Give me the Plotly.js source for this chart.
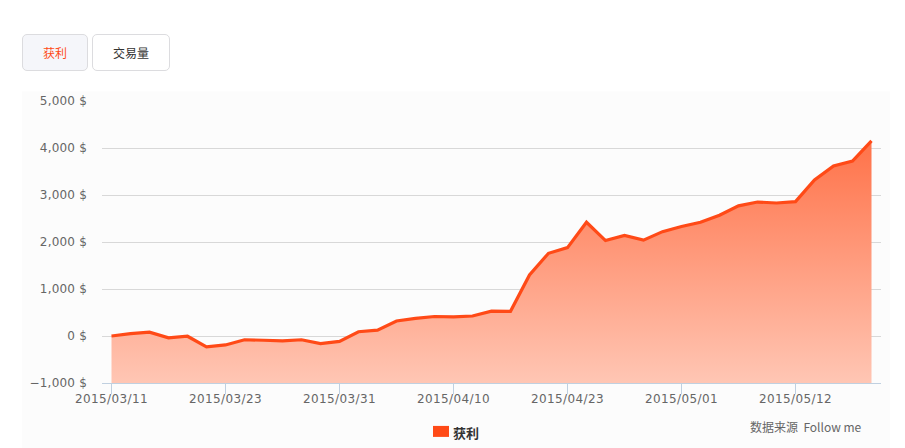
<!DOCTYPE html>
<html>
<head>
<meta charset="utf-8">
<script src="https://cdn.plot.ly/plotly-3.0.1.min.js"></script>
<style>
html,body{margin:0;padding:0;background:#fff;width:905px;height:448px;overflow:hidden}
#chart{position:absolute;left:0;top:0;width:905px;height:448px}
.tab{position:absolute;top:34px;height:35px;text-align:center;border:1px solid #dcdcdf;border-radius:5px;box-sizing:content-box;font:12px/35px "Noto Sans CJK SC",sans-serif;z-index:5}
#t1{left:22px;width:64px;background:#f5f6fa;color:#ff4a17}
#t2{left:92px;width:76px;background:#fff;color:#333}
#chart .xtick text{letter-spacing:.4px}
#chart .ytick text{letter-spacing:.2px}
</style>
</head>
<body>
<div id="chart"></div>
<div class="tab" id="t1">获利</div>
<div class="tab" id="t2">交易量</div>
<script>
var profit = [0,50,80,-40,-5,-230,-190,-80,-90,-105,-80,-160,-115,90,125,320,375,415,405,425,530,525,1300,1760,1880,2420,2030,2140,2040,2220,2330,2420,2570,2770,2850,2830,2860,3320,3620,3720,4150];
var floorValue = -1000;
var tickIndex = [0,6,12,18,24,30,36];
var tickDates = ['2015/03/11','2015/03/23','2015/03/31','2015/04/10','2015/04/23','2015/05/01','2015/05/12'];
var yTicks = [-1000,0,1000,2000,3000,4000,5000];
var yLabels = ['−1,000 $','0 $','1,000 $','2,000 $','3,000 $','4,000 $','5,000 $'];
var seriesName = '获利';
var sourceLabel = '数据来源';
var sourceLink = 'Follow me';

var idx = profit.map(function(_, i){return i;});
var W = 905, H = 448;
var FONT = '"DejaVu Sans","Noto Sans CJK SC",sans-serif';
var L = 102, R = 881, T = 100.5, B = 383;

var traces = [
  {x: idx, y: idx.map(function(){return floorValue;}), mode:'lines', line:{width:0}, showlegend:false, hoverinfo:'skip'},
  {x: idx, y: profit, name: seriesName, mode:'lines', fill:'tonexty',
   line:{color:'#ff4a17', width:3.2, shape:'linear'},
   fillgradient:{type:'vertical', start:floorValue, stop:3900,
     colorscale:[[0,'rgb(255,198,180)'],[1,'rgb(255,118,78)']]},
   showlegend:false, cliponaxis:false}
];

var layout = {
  width: W, height: H, showlegend:false,
  paper_bgcolor:'#ffffff', plot_bgcolor:'rgba(0,0,0,0)',
  margin:{l:L, r:W-R, t:T, b:H-B, pad:0},
  font:{family:FONT, size:12, color:'#666'},
  xaxis:{range:[-0.5,40.5], tickmode:'array', tickvals:tickIndex, ticktext:tickDates,
    ticks:'outside', ticklen:10, tickcolor:'#c0d0e0', tickwidth:1,
    showline:true, linecolor:'#c0d0e0', linewidth:1, showgrid:false, zeroline:false,
    ticklabelstandoff:-5, tickfont:{family:FONT, size:12, color:'#666'}, fixedrange:true},
  yaxis:{range:[-1000,5000], tickmode:'array', tickvals:yTicks, ticktext:yLabels,
    ticks:'', showline:false, showgrid:true, gridcolor:'#d8d8d8', gridwidth:1,
    zeroline:true, zerolinecolor:'#d8d8d8', zerolinewidth:1,
    ticklabelstandoff:14, tickfont:{family:FONT, size:12, color:'#666'}, fixedrange:true},
  shapes:[
    {type:'rect', xref:'paper', yref:'paper', layer:'below',
     x0:(22-L)/(R-L), x1:(890-L)/(R-L), y0:(B-448)/(B-T), y1:(B-91)/(B-T),
     fillcolor:'#fcfcfc', line:{width:0}},
    {type:'rect', xref:'paper', yref:'paper', layer:'above',
     x0:(433-L)/(R-L), x1:(449-L)/(R-L), y0:(B-437)/(B-T), y1:(B-426)/(B-T),
     fillcolor:'#ff4a17', line:{width:0}}
  ],
  annotations:[
    {xref:'paper', yref:'paper', xanchor:'left', yanchor:'middle', showarrow:false,
     x:(451-L)/(R-L), y:(B-433)/(B-T), text:'<b>'+seriesName+'</b>',
     font:{family:'"Noto Sans CJK SC",sans-serif', size:13, color:'#333'}},
    {xref:'paper', yref:'paper', xanchor:'left', yanchor:'middle', showarrow:false,
     x:(748-L)/(R-L), y:(B-427)/(B-T), text:sourceLabel+'  '+sourceLink,
     font:{family:'"Noto Sans CJK SC","DejaVu Sans",sans-serif', size:12, color:'#666'}}
  ]
};
Plotly.newPlot('chart', traces, layout, {displayModeBar:false});
</script>
</body>
</html>
